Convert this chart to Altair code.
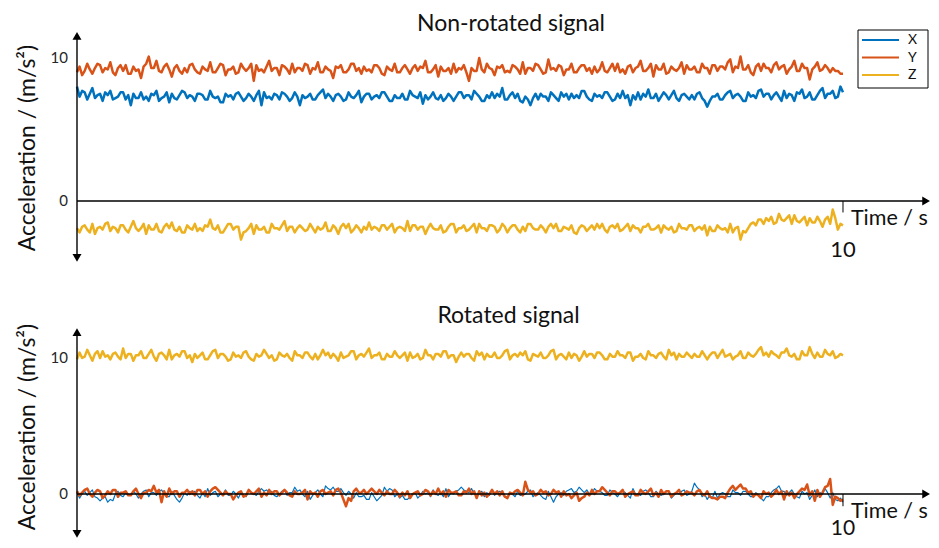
import altair as alt
import pandas as pd

# ---------------- data ----------------
N_SAMPLES = 300
T_MAX = 10.0
SERIES = ["X", "Y", "Z"]
COLORS = ["#0072BD", "#D95319", "#EDB120"]

# Non-rotated signal, m/s^2
top_x = [8.0,7.3,7.7,7.6,7.1,7.5,7.9,7.2,7.4,7.5,7.0,7.6,7.4,7.7,7.1,7.2,7.3,7.6,7.6,7.1,7.4,6.7,7.5,7.2,7.2,7.6,7.1,7.3,7.0,7.5,
         7.4,7.7,7.0,7.2,7.3,7.6,6.9,7.5,7.2,7.1,7.4,7.7,7.6,7.2,7.4,7.3,7.0,7.5,7.5,7.4,7.1,7.1,7.7,7.3,7.2,7.3,6.9,6.9,7.5,7.3,
         7.4,7.1,7.5,7.6,7.3,7.0,7.2,7.5,7.3,7.0,7.4,7.7,6.7,7.6,7.2,7.3,7.1,7.5,7.4,7.1,7.6,7.5,7.3,7.0,7.2,7.6,7.3,6.7,7.4,7.2,
         7.3,7.5,7.1,7.1,7.4,7.6,7.8,7.2,7.5,7.3,7.0,7.4,7.5,7.3,7.0,7.1,7.6,7.3,7.2,7.4,7.7,6.9,7.3,7.5,7.5,7.1,7.3,7.4,7.2,7.6,
         7.6,7.3,7.0,7.0,7.4,7.2,7.2,7.5,7.1,7.1,7.7,7.4,7.3,7.2,7.6,6.8,7.4,7.1,7.3,7.6,7.2,7.1,7.4,7.0,7.2,7.5,7.3,7.0,7.3,7.6,
         7.6,7.2,7.4,7.4,7.1,7.7,7.5,7.3,7.0,7.0,7.4,7.2,7.6,7.2,7.5,7.3,7.9,7.1,7.1,7.4,7.6,7.2,7.5,7.0,6.9,7.3,7.1,6.7,7.2,7.5,
         7.1,7.5,7.3,7.3,7.0,7.6,7.4,7.2,7.0,7.6,7.3,7.5,7.1,7.5,7.2,7.4,7.2,7.7,7.7,7.3,7.1,7.0,7.5,7.3,7.4,7.2,7.6,7.6,7.3,7.0,
         7.1,7.5,7.2,7.7,7.2,7.4,6.7,7.4,7.1,7.6,7.1,7.5,7.3,7.8,7.2,7.2,7.5,7.0,7.3,7.6,7.4,7.1,7.4,7.7,7.2,7.0,7.4,7.5,7.3,7.1,
         7.4,7.1,7.5,7.6,7.2,7.0,6.6,7.0,7.3,7.3,7.5,7.1,7.1,7.4,7.6,7.7,7.2,7.4,7.5,7.3,7.0,7.0,7.6,7.3,7.4,7.2,7.7,7.8,7.3,7.5,
         7.5,7.1,7.4,7.6,7.3,7.0,7.7,7.2,7.5,7.4,7.0,7.6,7.5,7.8,7.2,7.3,7.6,7.1,7.1,7.4,7.7,7.9,7.2,7.5,7.5,7.7,7.2,7.3,8.0,7.6]
top_y = [9.0,9.4,8.8,9.1,9.6,9.2,8.9,9.3,9.6,9.5,9.0,9.3,9.2,9.7,9.0,8.8,9.3,9.5,9.1,9.5,8.9,8.9,9.4,9.1,9.2,8.6,9.4,9.6,10.1,9.3,
         9.3,9.8,9.1,9.0,9.4,9.6,9.2,8.7,9.3,9.5,9.1,8.9,9.3,9.0,9.5,9.6,9.2,9.0,8.9,9.4,9.2,9.1,9.7,9.0,9.0,9.3,9.6,9.5,8.8,9.2,
         9.2,9.4,8.9,9.0,9.6,9.3,9.1,9.3,9.6,8.4,9.5,9.1,9.2,9.0,9.4,9.8,9.1,9.3,9.3,8.8,9.5,9.4,9.2,8.9,9.6,9.0,9.3,9.3,9.1,9.6,
         9.5,8.9,9.3,9.2,9.7,9.0,9.0,9.4,9.2,9.1,8.6,9.4,9.3,9.5,9.0,9.0,9.2,9.6,9.6,9.1,9.3,8.9,9.4,9.1,9.2,9.0,9.5,9.5,9.3,8.9,
         8.8,9.4,9.2,9.1,9.6,9.0,9.0,9.3,9.5,9.2,8.9,9.3,9.5,9.1,9.4,9.3,9.8,9.0,9.0,9.2,9.5,8.7,9.4,9.1,9.1,9.3,8.9,9.6,9.0,9.3,
         9.2,9.5,9.0,8.4,9.3,9.1,9.1,10.0,9.2,9.0,9.6,9.3,9.2,8.8,9.4,9.3,9.5,9.0,9.1,9.0,9.5,9.4,9.2,8.9,9.7,8.9,9.3,9.3,9.1,9.6,
         9.5,9.2,8.9,9.0,9.9,9.2,9.3,9.1,9.5,9.4,8.8,9.2,9.2,9.6,9.0,9.0,9.3,9.5,9.5,9.1,9.3,8.9,9.4,9.0,9.2,9.7,9.1,9.0,9.3,9.6,
         9.1,9.6,9.0,9.2,8.9,9.4,9.5,9.0,9.3,9.4,9.8,9.1,9.1,9.3,9.6,8.7,9.5,9.2,9.2,9.6,8.9,9.0,9.4,9.2,9.1,9.3,9.7,8.9,9.5,9.2,
         9.2,9.4,9.0,9.0,9.6,9.3,9.3,8.9,9.5,9.5,9.1,9.4,9.4,9.2,9.7,9.9,9.0,9.4,9.3,10.1,9.2,9.2,9.5,9.0,8.8,9.4,9.6,9.1,9.6,9.3,
         9.3,9.0,9.5,9.7,9.2,9.4,9.5,8.9,9.2,9.4,9.8,9.1,9.1,9.6,9.3,9.3,8.5,9.2,9.4,9.7,9.1,9.2,9.5,9.3,9.0,9.3,9.1,9.1,8.9,8.9]
top_z = [-1.9,-2.2,-1.8,-1.7,-2.0,-2.2,-1.6,-2.3,-1.9,-1.8,-2.0,-1.6,-1.5,-2.1,-1.8,-1.9,-2.2,-1.7,-1.7,-2.0,-2.2,-1.8,-1.4,-1.9,-2.1,-1.9,-1.6,-2.3,-1.7,-2.0,
         -2.0,-1.6,-2.1,-2.2,-1.8,-1.6,-1.9,-1.5,-2.0,-2.1,-1.8,-2.2,-2.2,-1.7,-1.9,-2.0,-1.6,-2.1,-1.9,-2.1,-1.7,-1.8,-1.3,-1.9,-2.0,-1.7,-2.2,-2.2,-1.9,-1.6,
         -1.6,-2.0,-1.8,-1.8,-2.7,-2.2,-2.1,-1.9,-1.6,-2.3,-1.7,-2.0,-2.0,-1.8,-2.2,-2.2,-1.6,-1.9,-1.9,-2.0,-1.7,-1.4,-2.1,-1.8,-1.8,-2.2,-1.9,-1.7,-1.9,-2.1,
         -2.0,-1.6,-1.9,-2.2,-1.8,-2.0,-1.9,-1.5,-2.1,-2.1,-1.7,-1.9,-2.3,-1.8,-1.6,-1.9,-1.6,-2.2,-2.0,-1.7,-1.9,-2.2,-1.8,-2.0,-1.5,-2.0,-1.8,-1.9,-2.1,-1.7,
         -1.7,-2.0,-1.8,-1.6,-2.2,-1.9,-1.8,-1.9,-2.1,-1.4,-2.1,-1.7,-1.7,-2.0,-1.8,-1.8,-2.3,-1.9,-1.6,-1.9,-2.0,-2.0,-1.7,-2.2,-2.1,-1.8,-1.6,-1.6,-2.2,-1.9,
         -1.9,-1.7,-2.1,-2.0,-1.8,-1.6,-2.2,-1.6,-1.9,-1.9,-2.1,-1.7,-1.7,-1.8,-2.2,-2.0,-1.6,-1.8,-2.2,-1.9,-1.7,-1.7,-2.0,-2.2,-1.8,-2.1,-1.6,-1.6,-1.9,-2.0,
         -2.0,-1.7,-1.9,-2.2,-1.8,-1.6,-1.9,-1.6,-2.1,-2.1,-1.8,-1.9,-2.0,-1.7,-2.2,-2.3,-1.9,-1.7,-1.8,-2.1,-1.9,-1.7,-2.0,-1.6,-1.9,-1.6,-2.0,-2.2,-1.8,-1.7,
         -1.9,-1.6,-2.1,-2.0,-1.8,-1.6,-2.1,-1.7,-1.9,-1.9,-2.2,-1.8,-1.8,-1.6,-2.0,-2.0,-1.9,-1.7,-2.2,-1.7,-1.9,-2.0,-1.8,-2.2,-2.1,-1.6,-1.9,-1.9,-2.0,-1.7,
         -1.7,-2.1,-1.9,-1.8,-2.0,-1.7,-2.4,-1.8,-2.1,-2.1,-1.7,-1.9,-2.0,-1.9,-2.2,-1.6,-2.2,-1.9,-1.8,-2.7,-2.1,-2.2,-1.9,-1.6,-1.5,-1.7,-1.3,-1.3,-1.6,-1.2,
         -1.4,-1.1,-1.6,-1.5,-0.9,-1.3,-1.4,-1.2,-1.0,-1.6,-1.0,-1.4,-1.5,-1.3,-1.1,-1.7,-1.2,-1.5,-1.5,-1.1,-1.4,-1.8,-1.3,-1.1,-1.6,-0.6,-1.2,-2.0,-1.6,-1.7]

# Rotated signal, m/s^2
rot_x = [0.1,-0.3,0.0,0.2,-0.1,0.1,0.3,-0.2,-0.3,-0.5,-0.3,-0.2,-0.6,-0.4,-0.5,0.0,0.2,-0.1,-0.2,0.1,-0.1,-0.1,0.2,0.0,-0.3,0.0,0.2,0.3,-0.2,0.1,
         0.1,-0.1,0.2,0.3,0.0,-0.2,-0.2,0.2,-0.1,-0.4,-0.6,-0.3,0.1,-0.1,0.2,0.0,0.2,-0.1,-0.3,0.1,-0.2,0.4,-0.1,0.1,0.2,-0.2,0.0,0.0,0.3,-0.1,
         -0.1,0.2,0.0,-0.3,0.1,-0.1,-0.2,0.3,0.1,0.0,-0.1,0.2,0.4,0.2,0.3,0.1,0.2,-0.1,-0.2,0.0,0.2,0.3,-0.1,0.1,0.1,0.5,0.2,0.3,0.0,-0.2,
         0.2,-0.4,-0.1,0.1,0.3,0.0,-0.2,0.6,0.4,0.3,0.5,0.2,0.2,0.4,0.1,-0.1,0.2,0.0,-0.3,0.1,-0.2,-0.2,-0.1,-0.4,-0.4,0.1,-0.2,-0.5,-0.3,-0.1,
         0.5,0.2,0.4,0.3,-0.2,0.0,-0.3,-0.1,-0.4,-0.4,-0.2,0.0,0.1,-0.3,-0.1,0.2,0.0,0.1,-0.2,0.3,0.0,-0.1,0.1,-0.2,0.4,-0.2,0.1,0.0,0.2,0.3,
         0.5,0.3,0.2,0.1,0.4,0.0,-0.1,0.0,0.2,-0.2,0.1,-0.1,0.3,-0.1,0.1,0.2,0.0,-0.2,-0.3,0.1,0.0,-0.2,0.2,-0.1,-0.1,0.0,0.2,0.3,-0.2,0.0,
         0.1,-0.1,-0.3,-0.4,0.2,-0.2,-0.6,-0.2,0.0,0.1,-0.1,0.2,0.3,0.4,0.1,0.2,0.5,0.3,0.1,0.3,0.0,0.0,0.4,0.2,0.2,0.1,-0.1,-0.1,0.3,0.1,
         0.0,-0.2,0.1,0.2,0.1,-0.1,-0.3,0.4,0.0,0.0,-0.1,0.2,0.3,0.1,-0.2,-0.2,0.2,0.0,-0.1,0.0,0.2,0.2,-0.3,-0.1,0.1,0.0,0.2,0.3,-0.1,0.0,
         0.2,0.8,0.5,0.3,-0.2,0.0,-0.4,-0.1,-0.3,0.2,-0.3,0.0,0.1,0.0,-0.2,-0.2,0.3,0.1,0.1,-0.1,0.2,0.2,0.0,-0.2,-0.2,0.1,-0.1,-0.3,-0.5,-0.2,
         -0.2,0.1,0.3,0.4,0.6,0.2,0.2,-0.1,0.1,0.3,0.0,-0.2,-0.3,0.2,0.0,0.1,-0.4,-0.1,0.3,-0.2,0.1,0.0,0.4,0.1,-0.3,0.1,-0.4,-0.5,-0.3,-0.6]
rot_y = [0.2,-0.1,0.1,0.3,0.4,0.0,-0.2,0.1,0.3,0.2,-0.3,-0.1,0.2,0.0,0.3,0.3,-0.2,0.1,0.1,0.2,-0.1,-0.1,0.2,0.4,0.0,-0.3,0.1,0.1,0.3,0.2,
         0.6,0.1,0.3,-0.6,0.2,-0.2,0.4,0.0,0.2,0.2,-0.2,0.1,0.1,0.3,0.0,0.2,-0.1,0.3,0.3,0.0,0.2,-0.2,0.2,0.4,0.5,0.3,0.1,-0.1,0.2,0.0,
         0.0,-0.4,-0.1,0.1,0.2,-0.2,-0.1,0.3,0.1,0.0,0.2,0.4,-0.2,0.1,-0.1,0.3,0.0,0.2,0.2,-0.1,0.1,0.3,0.1,-0.1,-0.2,0.2,0.0,0.0,0.1,0.3,
         -0.4,0.2,0.0,0.1,-0.2,0.2,0.3,0.0,0.1,0.2,-0.1,0.3,0.4,0.1,-0.4,-0.9,-0.3,-0.5,0.2,0.4,0.1,0.1,0.3,0.0,0.2,0.4,0.2,0.0,0.3,0.1,
         -0.1,0.2,0.0,0.0,0.3,0.1,-0.2,0.1,-0.1,0.2,-0.3,0.0,0.1,0.2,-0.1,0.0,0.3,0.2,-0.1,0.2,0.0,0.4,0.0,0.2,-0.2,0.3,0.1,0.1,0.2,-0.1,
         -0.1,0.2,0.1,0.4,0.0,0.2,-0.3,0.2,-0.1,0.1,-0.2,0.0,0.3,0.0,0.2,-0.1,0.2,-0.2,-0.3,0.1,0.0,0.2,0.3,0.1,-0.1,0.9,0.3,0.1,0.2,-0.1,
         0.0,0.3,0.1,0.2,-0.1,0.0,0.3,0.1,0.2,-0.2,0.2,-0.1,0.0,-0.3,-0.1,0.1,-0.5,-0.3,-0.2,0.1,-0.1,0.3,0.0,0.2,0.2,0.5,0.3,0.1,-0.1,0.2,
         0.2,0.0,0.1,0.3,-0.2,0.0,0.1,0.2,-0.1,-0.1,0.3,0.1,0.0,0.2,0.4,-0.1,0.1,-0.2,0.3,0.0,0.2,0.2,-0.2,0.0,0.1,0.3,-0.1,0.0,0.2,0.1,
         0.1,-0.1,0.2,0.3,0.0,-0.1,0.2,-0.2,-0.3,-0.3,-0.4,-0.2,-0.2,-0.3,0.1,0.4,0.6,0.3,0.5,0.7,0.4,0.4,0.1,0.2,-0.2,0.0,-0.1,-0.3,0.2,0.0,
         0.1,-0.2,0.0,0.3,0.0,0.2,-0.4,0.2,-0.1,0.1,-0.3,0.0,0.2,0.4,0.3,0.7,-0.1,0.2,-0.5,0.3,-0.2,0.1,0.5,0.6,1.1,-0.8,-0.2,-0.3,-0.5,-0.4]
rot_z = [9.9,10.4,10.0,10.1,10.6,10.2,9.8,10.3,10.5,10.0,10.5,10.1,10.2,9.9,10.3,10.4,10.1,9.9,10.7,10.0,10.3,10.3,9.8,10.2,10.2,10.5,10.0,10.0,10.3,10.6,
         10.1,9.8,10.3,10.4,10.2,9.9,10.6,9.9,10.2,10.3,10.1,10.5,10.5,10.0,10.2,9.7,10.3,10.0,10.2,10.4,9.9,9.9,10.2,10.5,10.6,10.0,10.3,10.3,10.1,9.8,
         9.9,10.4,10.1,10.2,10.0,10.4,10.5,10.1,9.9,9.8,10.3,10.1,10.2,10.6,10.3,10.0,10.2,9.8,9.9,10.4,10.2,10.1,10.3,10.0,9.8,10.5,10.2,10.2,10.0,10.4,
         10.4,10.1,9.9,10.3,9.9,10.2,10.6,10.2,10.4,10.0,10.3,10.1,9.8,10.4,10.0,10.1,10.2,10.5,10.5,9.9,10.2,10.3,10.1,10.4,10.7,10.0,10.2,10.2,10.4,9.9,
         9.9,10.3,10.1,10.1,10.5,10.2,10.0,10.2,10.4,9.8,10.4,10.0,10.1,10.3,9.9,10.0,10.6,10.2,10.2,9.9,10.3,10.3,10.1,10.5,10.5,10.0,10.2,10.2,9.7,10.1,
         10.4,10.1,10.3,10.3,10.0,9.8,10.5,10.2,10.4,9.9,10.3,10.1,10.1,10.4,10.0,10.0,10.2,10.5,10.6,9.9,10.2,10.3,10.1,10.4,10.2,10.5,9.9,9.8,10.3,10.2,
         10.1,10.4,10.0,10.0,10.2,10.5,10.6,9.9,10.2,10.3,10.1,9.9,10.4,10.0,10.3,10.2,9.8,10.1,10.5,10.1,10.3,10.3,10.0,10.4,10.4,10.2,9.9,9.9,10.3,10.1,
         10.1,10.5,10.2,10.2,10.0,10.4,10.4,9.8,10.1,10.1,10.3,10.0,9.9,10.5,10.2,10.2,10.0,10.3,10.4,10.1,9.9,10.6,10.2,10.4,9.9,10.3,10.1,10.1,10.4,10.2,
         10.0,10.3,10.1,10.1,10.5,10.2,9.9,10.2,10.4,10.4,10.0,10.3,10.6,10.1,10.2,10.3,9.9,10.1,10.2,10.5,10.0,10.0,10.4,10.2,10.1,10.3,10.6,10.8,10.2,10.4,
         10.1,10.5,10.3,10.2,10.0,10.4,10.4,10.7,10.2,10.1,10.3,9.9,9.9,10.5,10.2,10.2,10.8,10.3,10.0,10.4,10.1,10.1,10.6,10.3,10.2,10.5,10.0,10.1,10.3,10.2]

TITLE_TOP = "Non-rotated signal"
TITLE_BOT = "Rotated signal"
Y_TITLE = "Acceleration / (m/s²)"
X_TITLE = "Time / s"
Y_TICKS = [0, 10]
X_TICK = 10

# ---------------- build tables ----------------
time = [i * T_MAX / (N_SAMPLES - 1) for i in range(N_SAMPLES)]


def long_table(pairs):
    rows = []
    for name, vals in pairs:
        for t, v in zip(time, vals):
            rows.append({"t": t, "v": v, "series": name})
    return pd.DataFrame(rows)


top_df = long_table([("X", top_x), ("Y", top_y), ("Z", top_z)])
bot_x_df = long_table([("X", rot_x)])
bot_yz_df = long_table([("Y", rot_y), ("Z", rot_z)])

# ---------------- scales / layout ----------------
W, H = 854, 532
X_MAX = 11.149
TOP_DOM = [-23.706, 13.497]
BOT_DOM = [-3.382, 35.735]
FONT = "Lato"
INK = "#111111"

xs = alt.Scale(domain=[0, X_MAX], nice=False, zero=False)
cs = alt.Scale(domain=SERIES, range=COLORS)


def ysc(dom):
    return alt.Scale(domain=dom, nice=False, zero=False)


def X():
    return alt.X("t:Q", scale=xs, axis=None)


def Y(dom):
    return alt.Y("v:Q", scale=ysc(dom), axis=None)


def lines(df, dom, width):
    return alt.Chart(df).mark_line(strokeWidth=width, strokeJoin="round").encode(
        x=X(), y=Y(dom), color=alt.Color("series:N", scale=cs, legend=None))


def seg(dom, t0, t1, v0, v1, w=1.4):
    d = pd.DataFrame({"t": [t0], "t2": [t1], "v": [v0], "v2": [v1]})
    return alt.Chart(d).mark_rule(color="black", strokeWidth=w).encode(
        x=X(), x2="t2:Q", y=Y(dom), y2="v2:Q")


def head(dom, t, v, shape):
    d = pd.DataFrame({"t": [t], "v": [v]})
    return alt.Chart(d).mark_point(shape=shape, filled=True, color="black",
                                   size=80, opacity=1).encode(x=X(), y=Y(dom))


def dlabel(dom, t, v, text, size, align="center", baseline="alphabetic"):
    d = pd.DataFrame({"t": [t], "v": [v], "s": [text]})
    return alt.Chart(d).mark_text(font=FONT, fontSize=size, align=align,
                                  baseline=baseline, color=INK).encode(
        x=X(), y=Y(dom), text="s:N")


def ytick_labels(dom):
    d = pd.DataFrame({"v": Y_TICKS, "s": [str(v) for v in Y_TICKS]})
    return alt.Chart(d).mark_text(font=FONT, fontSize=15, align="right",
                                  baseline="middle", color="#262626").encode(
        x=alt.value(-9), y=Y(dom), text="s:N")


def ptext(px, py, text, size, angle=0):
    d = pd.DataFrame({"s": [text]})
    return alt.Chart(d).mark_text(font=FONT, fontSize=size, align="center",
                                  baseline="alphabetic", angle=angle,
                                  color=INK).encode(
        x=alt.value(px), y=alt.value(py), text="s:N")


def panel(dom, y_top, y_bot, tick_len, ten_v, ten_size, time_v):
    return [
        seg(dom, 0, 11.05, 0, 0),
        head(dom, 11.085, 0, "triangle-right"),
        seg(dom, 0, 0, y_bot, y_top),
        head(dom, 0, y_top + 0.05, "triangle-up"),
        head(dom, 0, y_bot - 0.08, "triangle-down"),
        seg(dom, X_TICK, X_TICK, 0, -tick_len, w=1),
        dlabel(dom, X_TICK, ten_v, str(X_TICK), ten_size),
        dlabel(dom, 10.104, time_v, X_TITLE, 21.5, align="left"),
        ytick_labels(dom),
    ]


# legend (drawn by hand, colours through the same colour scale)
leg_df = pd.DataFrame({"series": SERIES})
leg_y = alt.Y("series:N", axis=None,
              scale=alt.Scale(type="point", domain=SERIES, range=[32, 67], padding=0))
legend_box = alt.Chart(pd.DataFrame({"a": [0]})).mark_rect(
    fill="white", stroke="black", strokeWidth=1).encode(
    x=alt.value(781), x2=alt.value(851), y=alt.value(22), y2=alt.value(80))
legend_lines = alt.Chart(leg_df).mark_rule(strokeWidth=2).encode(
    x=alt.value(785), x2=alt.value(822), y=leg_y,
    color=alt.Color("series:N", scale=cs, legend=None))
legend_text = alt.Chart(leg_df).mark_text(
    font=FONT, fontSize=14, align="left", baseline="middle", color=INK).encode(
    x=alt.value(831), y=leg_y, text="series:N")

layers = [
    lines(top_df, TOP_DOM, 2.5),
    lines(bot_x_df, BOT_DOM, 1.2),
    lines(bot_yz_df, BOT_DOM, 2.5),
]
layers += panel(TOP_DOM, 11.5, -3.9, 0.8, -3.92, 22, -1.68)
layers += panel(BOT_DOM, 11.85, -2.85, 0.9, -3.0, 21, -1.76)
layers += [
    ptext(434, 23, TITLE_TOP, 23),
    ptext(431.5, 315, TITLE_BOT, 23),
    ptext(-42, 140, Y_TITLE, 23, angle=270),
    ptext(-42, 419, Y_TITLE, 23, angle=270),
    legend_box, legend_lines, legend_text,
]

chart = alt.layer(*layers).resolve_scale(y="independent").properties(
    width=W, height=H,
    padding={"left": 69, "right": 0, "top": 0, "bottom": 0},
    autosize=alt.AutoSizeParams(type="none"),
    background="white",
).configure_view(stroke=None)

chart.save("out.html", embed_options={"renderer": "svg", "actions": False})
